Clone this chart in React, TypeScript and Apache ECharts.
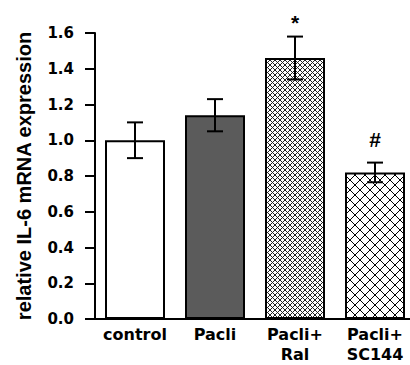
import React, { useEffect, useRef } from "react";
import * as echarts from "echarts";

const categories = ["control", "Pacli", "Pacli+\nRal", "Pacli+\nSC144"];
const values = [1.0, 1.14, 1.46, 0.82];
const errors = [0.1, 0.09, 0.12, 0.055];
const annotations = ["", "", "*", "#"];
const yTicks = [0, 0.2, 0.4, 0.6, 0.8, 1.0, 1.2, 1.4, 1.6];

const svgTile = (size: number, stroke: string, width: number) =>
  "data:image/svg+xml;utf8," +
  encodeURIComponent(
    `<svg xmlns="http://www.w3.org/2000/svg" width="${size}" height="${size}">` +
      `<path d="M0 0L${size} ${size}M${size} 0L0 ${size}" stroke="${stroke}" stroke-width="${width}" fill="none"/>` +
      `</svg>`
  );

const fineHatch = { image: svgTile(5, "#222", 1), repeat: "repeat", imageWidth: 5, imageHeight: 5 };
const coarseHatch = { image: svgTile(10, "#000", 1), repeat: "repeat", imageWidth: 10, imageHeight: 10 };
const fills: any[] = ["#ffffff", "#5b5b5b", fineHatch, coarseHatch];

const markShift: Record<string, number> = { "*": 6, "#": -3 };

export default function App() {
  const ref = useRef<HTMLDivElement>(null);
  useEffect(() => {
    if (!ref.current) return;
    const chart = echarts.init(ref.current, null, { renderer: "svg" });
    chart.setOption({
      animation: false,
      backgroundColor: "#ffffff",
      grid: {
        left: 95,
        top: 33,
        width: 320,
        height: 286,
        containLabel: false,
        outerBoundsMode: "none",
      },
      xAxis: {
        type: "category",
        data: categories,
        axisLine: { lineStyle: { color: "#000", width: 2 } },
        axisTick: { show: false },
        axisLabel: {
          interval: 0,
          color: "#000",
          fontFamily: "DejaVu Sans",
          fontWeight: "bold",
          fontSize: 16,
          lineHeight: 20,
          margin: 5,
        },
      },
      yAxis: {
        type: "value",
        min: yTicks[0],
        max: yTicks[yTicks.length - 1],
        interval: 0.2,
        name: "relative IL-6 mRNA expression",
        nameLocation: "middle",
        nameGap: 61,
        nameTextStyle: {
          color: "#000",
          fontFamily: "Liberation Sans",
          fontWeight: "bold",
          fontSize: 20,
        },
        axisLine: { show: true, lineStyle: { color: "#000", width: 2 } },
        axisTick: { show: true, length: 10, lineStyle: { color: "#000", width: 2 } },
        splitLine: { show: false },
        axisLabel: {
          color: "#000",
          fontFamily: "DejaVu Sans",
          fontWeight: "bold",
          fontSize: 15,
          margin: 21,
          formatter: (v: number) => v.toFixed(1),
        },
      },
      series: [
        {
          type: "bar",
          barWidth: 60,
          data: values.map((v, i) => ({
            value: v,
            itemStyle: { color: fills[i], borderColor: "#000", borderWidth: 2 },
          })),
          z: 2,
        },
        {
          type: "custom",
          z: 5,
          data: values.map((v, i) => [i, v, errors[i]]),
          renderItem: (params: any, api: any) => {
            const i = api.value(0);
            const v = api.value(1);
            const e = api.value(2);
            const top = api.coord([i, v + e]);
            const bot = api.coord([i, v - e]);
            const cap = 8;
            const ls = { stroke: "#000", lineWidth: 2 };
            const children: any[] = [
              { type: "line", shape: { x1: top[0], y1: top[1], x2: bot[0], y2: bot[1] }, style: ls },
              { type: "line", shape: { x1: top[0] - cap, y1: top[1], x2: top[0] + cap, y2: top[1] }, style: ls },
              { type: "line", shape: { x1: bot[0] - cap, y1: bot[1], x2: bot[0] + cap, y2: bot[1] }, style: ls },
            ];
            const mark = annotations[params.dataIndex];
            if (mark) {
              children.push({
                type: "text",
                style: {
                  text: mark,
                  x: top[0],
                  y: top[1] - 10 + (markShift[mark] || 0),
                  align: "center",
                  verticalAlign: "bottom",
                  fill: "#000",
                  font: "bold 21px 'Liberation Sans'",
                },
              });
            }
            return { type: "group", children };
          },
        },
      ],
    });
    return () => chart.dispose();
  }, []);
  return (
    <div
      ref={ref}
      style={{ position: "fixed", left: 0, top: 0, width: 410, height: 365, background: "#fff" }}
    />
  );
}
